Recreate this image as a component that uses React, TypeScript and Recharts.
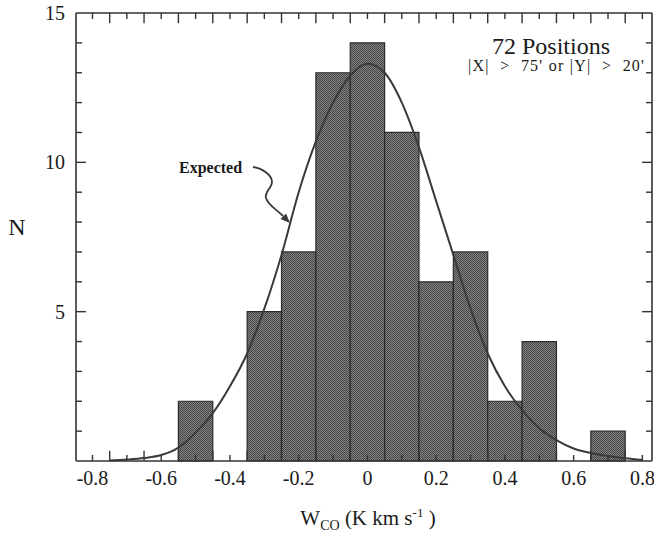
import { ComposedChart, Line, XAxis, YAxis, ReferenceArea, ReferenceLine, ReferenceDot } from 'recharts'

// histogram: bin centres (width 0.1) and counts
const binCenters = [-0.5, -0.3, -0.2, -0.1, 0, 0.1, 0.2, 0.3, 0.4, 0.5, 0.7]
const binCounts = [2, 5, 7, 13, 14, 11, 6, 7, 2, 4, 1]

// expected curve
const curveX = [
  -0.75, -0.7, -0.65, -0.6, -0.55, -0.5, -0.45, -0.4, -0.35, -0.3, -0.25, -0.2, -0.15, -0.1, -0.05, 0,
  0.05, 0.1, 0.15, 0.2, 0.25, 0.3, 0.35, 0.4, 0.45, 0.5, 0.55, 0.6, 0.65, 0.7, 0.75, 0.8,
]
const curveN = [
  0.02, 0.05, 0.1, 0.2, 0.45, 0.95, 1.6, 2.5, 3.6, 5.1, 6.9, 9.0, 10.7, 12.0, 12.9, 13.3,
  13.0, 12.0, 10.5, 8.7, 6.9, 5.1, 3.6, 2.5, 1.7, 1.1, 0.7, 0.42, 0.27, 0.17, 0.09, 0.03,
]

const xLabelTicks = [-0.8, -0.6, -0.4, -0.2, 0, 0.2, 0.4, 0.6, 0.8]
const xTicks = [
  -0.8, -0.75, -0.7, -0.65, -0.6, -0.55, -0.5, -0.45, -0.4, -0.35, -0.3, -0.25, -0.2, -0.15, -0.1, -0.05, 0,
  0.05, 0.1, 0.15, 0.2, 0.25, 0.3, 0.35, 0.4, 0.45, 0.5, 0.55, 0.6, 0.65, 0.7, 0.75, 0.8,
]
const yTicks = [1, 2, 3, 4, 5, 6, 7, 8, 9, 10, 11, 12, 13, 14]
const yLabelTicks = [5, 10, 15]

const X_MIN = -0.848
const X_MAX = 0.828
const Y_MAX = 15

const FONT = "'Liberation Serif', 'Times New Roman', serif"
const INK = '#1a1a1a'
const AXIS = '#333'

const curveData = curveX.map((x, i) => ({ x, n: curveN[i] }))

// bin edges get the long marks, the 0.1 steps the short ones (lengths in data units)
const isEdge = (v: number) => Math.abs(Math.round(v * 20)) % 2 === 1
const xTickLen = (v: number) => (isEdge(v) ? 0.34 : 0.2)
const yTickLen = (v: number) => (v % 5 === 0 ? 0.029 : 0.0175)

// titles and the "Expected" pointer
function Annotations() {
  return (
    <g>
      <text x={551} y={54} textAnchor="middle" fontFamily={FONT} fontSize={24} fill={INK}>
        72 Positions
      </text>
      <text x={556} y={71} textAnchor="middle" fontFamily={FONT} style={{ whiteSpace: 'pre' }}
        fontSize={16} fill={INK} textLength={176} lengthAdjust="spacing">
        {"|X|  >  75' or |Y|  >  20'"}
      </text>
      <text x={179} y={173} fontFamily={FONT} fontSize={16} fontWeight="bold" fill={INK}>
        Expected
      </text>
      <path d="M253,167 C262,168 272,175 272,182 C272,188 264,192 266,198 C268,205 276,209 283,216"
        fill="none" stroke="#3a3a3a" strokeWidth={1.8} />
      <polygon points="290,223 280.5,219 286,213.5" fill="#3a3a3a" />
      <text x={17} y={235} textAnchor="middle" fontFamily={FONT} fontSize={24} fill={INK}>N</text>
      <text x={368} y={525} textAnchor="middle" fontFamily={FONT} fontSize={21} fill={INK}>
        W<tspan fontSize={14} dy={5}>CO</tspan>
        <tspan dy={-5}> (K km s</tspan>
        <tspan fontSize={13} dy={-8}>-1</tspan>
        <tspan dy={8}> )</tspan>
      </text>
    </g>
  )
}

export default function App() {
  return (
    <div style={{ position: 'absolute', left: 0, top: 0, width: 654, height: 535, background: '#fff' }}>
      <ComposedChart width={654} height={535} data={curveData}
        margin={{ top: 13, right: 2, left: 0, bottom: 0 }}>
        <defs>
          <pattern id="stipple" width={2} height={2} patternUnits="userSpaceOnUse">
            <rect width={2} height={2} fill="#838383" />
            <rect width={1} height={1} fill="#464646" />
            <rect x={1} y={1} width={1} height={1} fill="#464646" />
          </pattern>
        </defs>
        <XAxis dataKey="x" type="number" domain={[X_MIN, X_MAX]} ticks={xLabelTicks} interval={0}
          tickLine={false} tickSize={0} tickMargin={10} height={74}
          tick={{ fontFamily: FONT, fontSize: 20, fill: INK }}
          axisLine={{ stroke: AXIS, strokeWidth: 1.6 }} />
        <YAxis type="number" domain={[0, Y_MAX]} ticks={yLabelTicks} interval={0}
          tickLine={false} tickSize={0} tickMargin={11} width={76}
          tick={{ fontFamily: FONT, fontSize: 20, fill: INK }}
          axisLine={{ stroke: AXIS, strokeWidth: 1.6 }} />

        {binCenters.map((c, i) => (
          <ReferenceArea key={c} x1={c - 0.05} x2={c + 0.05} y1={0} y2={binCounts[i]}
            fill="url(#stipple)" fillOpacity={1} stroke="#2b2b2b" strokeWidth={1.2} />
        ))}

        {/* frame: top and right sides */}
        <ReferenceLine y={Y_MAX} ifOverflow="visible" stroke={AXIS} strokeWidth={1.6} />
        <ReferenceLine x={X_MAX} ifOverflow="visible" stroke={AXIS} strokeWidth={1.6} />

        {/* inward ticks on all four sides */}
        {xTicks.map(v => (
          <ReferenceLine key={`b${v}`} ifOverflow="visible"
            segment={[{ x: v, y: 0 }, { x: v, y: xTickLen(v) }]} stroke={AXIS} strokeWidth={1.4} />
        ))}
        {xTicks.map(v => (
          <ReferenceLine key={`t${v}`} ifOverflow="visible"
            segment={[{ x: v, y: Y_MAX }, { x: v, y: Y_MAX - xTickLen(v) }]} stroke={AXIS} strokeWidth={1.4} />
        ))}
        {yTicks.map(v => (
          <ReferenceLine key={`l${v}`} ifOverflow="visible"
            segment={[{ x: X_MIN, y: v }, { x: X_MIN + yTickLen(v), y: v }]} stroke={AXIS} strokeWidth={1.4} />
        ))}
        {yTicks.map(v => (
          <ReferenceLine key={`r${v}`} ifOverflow="visible"
            segment={[{ x: X_MAX, y: v }, { x: X_MAX - yTickLen(v), y: v }]} stroke={AXIS} strokeWidth={1.4} />
        ))}

        <Line dataKey="n" type="monotone" stroke="#3a3a3a" strokeWidth={2} dot={false}
          isAnimationActive={false} />

        <ReferenceDot x={0} y={Y_MAX} r={0} ifOverflow="visible" stroke="none" fill="none"
          label={<Annotations />} />
      </ComposedChart>
    </div>
  )
}
